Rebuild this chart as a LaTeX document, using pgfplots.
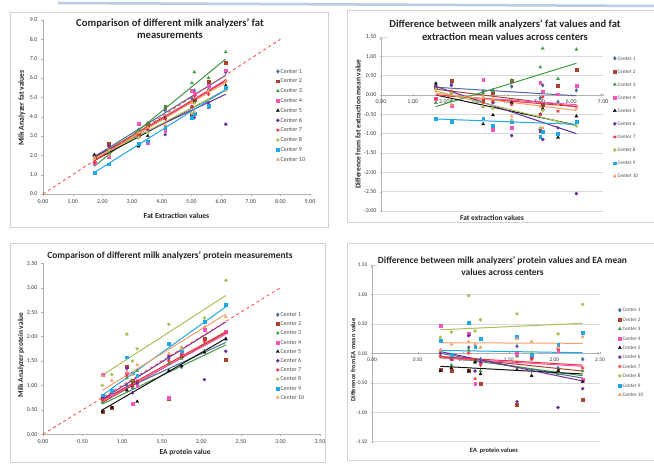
\documentclass[border=0pt]{standalone}
\usepackage{fontspec}
\setmainfont{Carlito}
\usepackage{pgfplots}
\usepackage{pgfplotstable}
\pgfplotsset{compat=1.18}

\definecolor{cc1}{HTML}{4F6A9A}
\definecolor{cc2}{HTML}{A8442E}
\definecolor{cc3}{HTML}{3F9A44}
\definecolor{cc4}{HTML}{F057B8}
\definecolor{cc5}{HTML}{111111}
\definecolor{cc6}{HTML}{6B2F9C}
\definecolor{cc7}{HTML}{F0323C}
\definecolor{cc8}{HTML}{A9C25A}
\definecolor{cc9}{HTML}{1FA7E6}
\definecolor{cc10}{HTML}{F3A06A}

% Fat: analyzer values
\pgfplotstableread{
x c1 c2 c3 c4 c5 c6 c7 c8 c9 c10
1.73 1.98 1.93 1.53 1.63 2.03 1.95 1.63 1.88 1.11 1.83
2.22 2.50 2.60 2.07 1.94 2.27 2.47 2.32 2.27 1.54 1.97
3.22 3.32 3.07 3.27 3.62 2.47 2.92 3.02 2.92 2.62 3.17
3.53 3.65 3.58 3.63 2.63 3.01 3.33 3.38 3.18 2.73 3.43
4.12 4.34 4.50 4.50 3.27 3.92 3.07 3.87 3.47 3.42 3.57
5.02 4.94 4.10 5.74 5.34 4.52 4.12 4.52 4.17 3.94 4.72
5.10 5.35 4.85 6.30 5.20 4.75 3.95 5.05 4.70 4.15 4.25
5.58 5.40 5.83 6.00 5.60 4.48 4.73 5.16 4.88 4.58 5.33
6.16 6.28 6.81 7.34 6.41 5.61 3.61 5.86 5.36 5.48 5.81
}\fatA
\pgfplotstableread{
x c1 c2 c3 c4 c5 c6 c7 c8 c9 c10
1.73 1.93 1.88 1.43 1.73 1.73 1.95 1.73 1.83 1.11 1.78
6.16 6.14 5.86 6.98 5.91 5.38 5.16 5.86 5.36 5.40 5.76
}\fatAtr
% Fat: differences
\pgfplotstableread{
x c1 c2 c3 c4 c5 c6 c7 c8 c9 c10
1.73 0.25 0.20 -0.20 -0.10 0.30 0.22 -0.10 0.15 -0.62 0.10
2.22 0.28 0.38 -0.15 -0.28 0.05 0.25 0.10 0.05 -0.68 -0.25
3.22 0.10 -0.15 0.05 0.40 -0.75 -0.30 -0.20 -0.30 -0.60 -0.05
3.53 0.12 0.05 0.10 -0.90 -0.52 -0.20 -0.15 -0.35 -0.80 -0.10
4.12 0.22 0.38 0.38 -0.85 -0.20 -1.05 -0.25 -0.65 -0.70 -0.55
5.02 -0.08 -0.92 0.72 0.32 -0.50 -0.90 -0.50 -0.85 -1.08 -0.30
5.10 0.25 -0.25 1.20 0.10 -0.35 -1.15 -0.05 -0.40 -0.95 -0.85
5.58 -0.18 0.25 0.42 0.02 -1.10 -0.85 -0.42 -0.70 -1.00 -0.25
6.16 0.12 0.65 1.18 0.25 -0.55 -2.55 -0.30 -0.80 -0.68 -0.35
}\fatB
\pgfplotstableread{
x c1 c2 c3 c4 c5 c6 c7 c8 c9 c10
1.73 0.20 0.15 -0.30 0.00 0.00 0.22 0.00 0.10 -0.62 0.05
6.16 -0.02 -0.30 0.82 -0.25 -0.78 -1.00 -0.30 -0.80 -0.76 -0.40
}\fatBtr
% Protein: analyzer values
\pgfplotstableread{
x c1 c2 c3 c4 c5 c6 c7 c8 c9 c10
0.75 0.72 0.47 0.65 1.22 0.47 0.75 0.70 1.00 0.80 1.20
0.87 0.80 0.55 0.80 0.80 0.55 0.90 0.85 1.22 0.90 1.10
1.06 1.00 1.38 1.15 1.25 0.90 1.35 1.20 2.05 1.58 1.28
1.13 0.95 1.10 1.10 0.62 1.00 0.85 1.00 1.50 1.25 1.22
1.19 1.05 1.05 1.30 1.00 0.67 1.05 1.10 1.75 1.20 1.42
1.59 1.55 0.72 1.45 0.75 1.30 1.60 1.50 2.25 1.85 1.65
1.75 1.38 1.60 1.55 1.65 1.40 1.70 1.62 1.78 1.70 1.75
2.04 1.70 1.95 1.70 2.15 1.68 1.12 1.90 2.38 2.30 2.20
2.31 1.95 1.53 2.10 2.10 1.95 1.70 2.08 3.15 2.65 2.40
}\proA
\pgfplotstableread{
x c1 c2 c3 c4 c5 c6 c7 c8 c9 c10
0.75 0.72 0.65 0.62 0.68 0.50 0.72 0.70 1.21 0.80 0.90
2.31 1.88 2.08 1.83 2.05 1.96 2.30 2.10 2.84 2.61 2.46
}\proAtr
% Protein: differences
\pgfplotstableread{
x c1 c2 c3 c4 c5 c6 c7 c8 c9 c10
0.75 0.05 -0.28 -0.05 0.47 -0.30 0.00 -0.05 0.27 0.21 0.05
0.87 -0.05 -0.30 -0.20 -0.10 -0.25 -0.10 -0.10 0.36 -0.02 0.15
1.06 0.10 -0.30 0.05 0.33 -0.30 0.30 0.00 0.98 0.52 0.20
1.13 -0.15 -0.10 -0.15 -0.52 -0.15 -0.30 -0.43 0.38 0.12 0.15
1.19 -0.10 -0.52 -0.30 -0.15 -0.35 -0.15 -0.20 0.57 0.25 0.10
1.59 0.12 -0.87 -0.05 0.00 -0.28 -0.82 -0.15 0.67 0.28 0.25
1.75 -0.30 -0.05 -0.10 -0.05 -0.38 -0.05 -0.10 0.02 -0.02 0.20
2.04 -0.25 -0.30 -0.35 0.05 -0.30 -0.92 0.08 0.33 0.15 0.10
2.31 -0.10 -0.78 -0.30 -0.45 -0.48 -0.60 -0.25 0.83 0.35 0.28
}\proB
\pgfplotstableread{
x c1 c2 c3 c4 c5 c6 c7 c8 c9 c10
0.75 0.00 -0.05 -0.05 -0.08 -0.22 0.03 -0.06 0.40 0.05 0.18
2.31 -0.42 -0.30 -0.38 -0.22 -0.35 -0.47 -0.20 0.51 0.01 0.17
}\proBtr

\tikzset{lbl/.style={font=\bfseries\fontsize{#1}{#1}\selectfont, text=black!85}}
\pgfplotsset{
  mk/.style={only marks, mark size=1.6bp, mark options={solid, line width=0.3bp}},
  s1/.style={mk, color=cc1, mark=diamond*, mark size=1.9bp},
  s2/.style={mk, color=cc2, mark=square*, mark size=1.4bp},
  s3/.style={mk, color=cc3, mark=triangle*, mark size=1.8bp},
  s4/.style={mk, color=cc4, mark=square*, mark size=1.4bp},
  s5/.style={mk, color=cc5, mark=triangle*, mark size=1.8bp},
  s6/.style={mk, color=cc6, mark=*},
  s7/.style={mk, color=cc7, mark=asterisk, mark size=1.8bp, mark options={solid, line width=0.6bp}},
  s8/.style={mk, color=cc8, mark=*},
  s9/.style={mk, color=cc9, mark=square*, mark size=1.4bp},
  s10/.style={mk, color=cc10, mark=triangle*, mark size=1.8bp},
  tr/.style={no marks, line width=1bp, forget plot},
  base/.style={
    scale only axis, clip=false,
    axis line style={draw=gray!60, -},
    tick style={draw=gray!60},
    tick align=outside, major tick length=2bp, minor tick num=0,
    /pgf/number format/assume math mode=true,
    ticklabel style={font=\fontsize{6}{6}\selectfont, text=black!75},
    legend style={draw=none, fill=none, text=black!70,
      anchor=north west, inner sep=0pt,
      nodes={inner sep=0pt, text height=4.2bp, text depth=0.8bp},
      /tikz/every odd column/.append style={column sep=1.2bp}},
    legend image code/.code={\draw[##1] plot coordinates {(1.5bp,0bp)};},
    legend cell align=left,
    legend entries={Center 1,Center 2,Center 3,Center 4,Center 5,Center 6,Center 7,Center 8,Center 9,Center 10},
  },
}

\begin{document}
\begin{tikzpicture}[x=1bp,y=1bp]
\fill[white] (0,0) rectangle (654,472);
\path[use as bounding box] (0,0) rectangle (654,472);
% slide header line
\draw[line width=2.5bp, color={rgb,255:red,184;green,204;blue,228}] (58,469) -- (654,466);
% chart area borders
\draw[gray!35, line width=0.7bp] (10,245) rectangle (328,460);
\draw[gray!35, line width=0.7bp] (347,250) rectangle (660,462);
\draw[gray!35, line width=0.7bp] (10,10) rectangle (325,229);
\draw[gray!35, line width=0.7bp] (347,12) rectangle (660,229);

% ---------- Panel 1 ----------
\begin{axis}[base, at={(43bp,278bp)}, anchor=south west, width=267bp, height=174bp,
  xmin=0, xmax=9, ymin=0, ymax=9, xtick={0,1,...,9}, ytick={0,1,...,9},
  axis x line*=bottom, axis y line*=left,
  xticklabel style={/pgf/number format/.cd, fixed, fixed zerofill, precision=2},
  yticklabel style={/pgf/number format/.cd, fixed, fixed zerofill, precision=1},
  xlabel={Fat Extraction values}, ylabel={Milk Analyzer fat values},
  xlabel style={lbl=7.7, at={(axis description cs:0.5,-0.126)}, anchor=center},
  ylabel style={lbl=7.7, at={(axis description cs:-0.079,0.494)}, anchor=center},
  legend style={font=\fontsize{6.2}{6.2}\selectfont, at={(axis description cs:0.873,0.72)}, row sep=4.8bp}]
\pgfplotsinvokeforeach{1,2,3,4,5,6,7,8,9,10}{\addplot[s#1] table[x=x,y=c#1]{\fatA};}
\pgfplotsinvokeforeach{1,2,3,4,5,6,7,8,9,10}{\addplot[tr, color=cc#1] table[x=x,y=c#1]{\fatAtr};}
\addplot[forget plot, red!75!white, dashed, line width=0.8bp] coordinates {(0,0) (8,8)};
\end{axis}

% ---------- Panel 2 ----------
\begin{axis}[base, at={(381bp,261bp)}, anchor=south west, width=222bp, height=174bp,
  xmin=0, xmax=7, ymin=-3, ymax=1.5, xtick={0,1,...,7}, ytick={-3,-2.5,...,1.5},
  axis x line=middle, axis y line=left, hide obscured x ticks=false,
  ymajorgrids, grid style={gray!30, line width=0.5bp},
  xticklabel style={/pgf/number format/.cd, fixed, fixed zerofill, precision=2},
  yticklabel style={/pgf/number format/.cd, fixed, fixed zerofill, precision=2},
  xlabel={Fat extraction values}, ylabel={Difference from fat extraction mean value},
  xlabel style={lbl=7.5, at={(axis description cs:0.5,-0.04)}, anchor=center},
  ylabel style={lbl=7.5, at={(axis description cs:-0.104,0.5)}, anchor=center, rotate=0},
  legend style={font=\fontsize{5.2}{5.2}\selectfont, at={(axis description cs:1.045,0.893)}, row sep=8.1bp}]
\pgfplotsinvokeforeach{1,2,3,4,5,6,7,8,9,10}{\addplot[s#1] table[x=x,y=c#1]{\fatB};}
\pgfplotsinvokeforeach{1,2,3,4,5,6,7,8,9,10}{\addplot[tr, color=cc#1] table[x=x,y=c#1]{\fatBtr};}
\end{axis}

% ---------- Panel 3 ----------
\begin{axis}[base, at={(43bp,37.7bp)}, anchor=south west, width=277bp, height=171bp,
  xmin=0, xmax=3.5, ymin=0, ymax=3.5, xtick={0,0.5,...,3.5}, ytick={0,0.5,...,3.5},
  axis x line*=bottom, axis y line*=left,
  xticklabel style={/pgf/number format/.cd, fixed, fixed zerofill, precision=2},
  yticklabel style={/pgf/number format/.cd, fixed, fixed zerofill, precision=2},
  xlabel={EA protein value}, ylabel={Milk Analyzer protein value},
  xlabel style={lbl=7.5, at={(axis description cs:0.513,-0.109)}, anchor=center},
  ylabel style={lbl=7.5, at={(axis description cs:-0.079,0.464)}, anchor=center},
  legend style={font=\fontsize{6}{6}\selectfont, at={(axis description cs:0.841,0.715)}, row sep=4.2bp}]
\pgfplotsinvokeforeach{1,2,3,4,5,6,7,8,9,10}{\addplot[s#1] table[x=x,y=c#1]{\proA};}
\pgfplotsinvokeforeach{1,2,3,4,5,6,7,8,9,10}{\addplot[tr, color=cc#1] table[x=x,y=c#1]{\proAtr};}
\addplot[forget plot, red!75!white, dashed, line width=0.8bp] coordinates {(0,0) (3,3)};
\end{axis}

% ---------- Panel 4 ----------
\begin{axis}[base, at={(372bp,30.3bp)}, anchor=south west, width=228bp, height=176.7bp,
  xmin=0, xmax=2.5, ymin=-1.5, ymax=1.5, xtick={0,0.5,...,2.5}, ytick={-1.5,-1,...,1.5},
  axis x line=middle, axis y line=left, hide obscured x ticks=false,
  ymajorgrids, grid style={gray!30, line width=0.5bp},
  ticklabel style={font=\fontsize{5.5}{5.5}\selectfont},
  xticklabel style={/pgf/number format/.cd, fixed, fixed zerofill, precision=2},
  yticklabel style={/pgf/number format/.cd, fixed, fixed zerofill, precision=2},
  xlabel={EA\ \ protein values}, ylabel={Difference from EA mean value},
  xlabel style={lbl=6.5, at={(axis description cs:0.535,-0.053)}, anchor=center},
  ylabel style={lbl=6.5, at={(axis description cs:-0.083,0.462)}, anchor=center, rotate=0},
  legend style={font=\fontsize{5.2}{5.2}\selectfont, at={(axis description cs:1.079,0.76)}, row sep=4.4bp}]
\pgfplotsinvokeforeach{1,2,3,4,5,6,7,8,9,10}{\addplot[s#1] table[x=x,y=c#1]{\proB};}
\pgfplotsinvokeforeach{1,2,3,4,5,6,7,8,9,10}{\addplot[tr, color=cc#1] table[x=x,y=c#1]{\proBtr};}
\end{axis}

% titles
\node[font=\bfseries\fontsize{10.7}{11.8}\selectfont, align=center, text=black!85] at (170,443.5) {Comparison of different milk analyzers' fat\\measurements};
\node[font=\bfseries\fontsize{10.6}{13}\selectfont, align=center, fill=white, inner sep=1bp, text=black!85] at (505,442) {Difference between milk analyzers' fat values and fat\\extraction mean values across centers};
\node[font=\bfseries\fontsize{9.5}{11.5}\selectfont, align=center, text=black!85] at (170,216.3) {Comparison of different milk analyzers' protein measurements};
\node[font=\bfseries\fontsize{9.5}{12}\selectfont, align=center, fill=white, inner sep=1bp, text=black!85] at (502.5,206) {Difference between milk analyzers' protein values and EA mean\\values across centers};
\end{tikzpicture}
\end{document}
